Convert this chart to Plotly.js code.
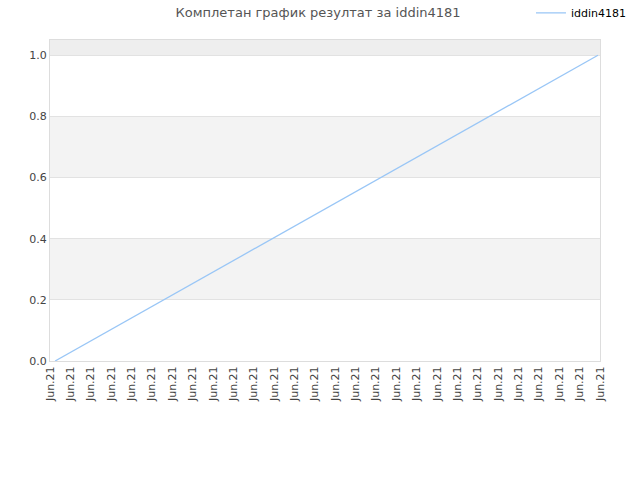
<!DOCTYPE html>
<html><head><meta charset="utf-8">
<script src="https://cdn.plot.ly/plotly-3.0.1.min.js"></script>
<style>body{margin:0;}#c{width:640px;height:480px;}</style>
</head><body><div id="c"></div>
<script>
const seriesName = "iddin4181";
const xIndex = [0.25, 26.9];
const yValues = [0, 1];
const tickPositions = [0,1,2,3,4,5,6,7,8,9,10,11,12,13,14,15,16,17,18,19,20,21,22,23,24,25,26,27];
const tickLabels = tickPositions.map(() => "Jun.21");
const bandRanges = [[0.2,0.4,"#f3f3f3"],[0.6,0.8,"#f3f3f3"],[1.0,1.05,"#eeeeee"]];

const shapes = bandRanges.map(b => ({type:"rect", xref:"paper", yref:"y", x0:0, x1:1, y0:b[0], y1:b[1], fillcolor:b[2], line:{width:0}, layer:"below"}));

Plotly.newPlot("c", [{
  x: xIndex, y: yValues, type: "scatter", mode: "lines", name: seriesName,
  line: {color: "#99c6f6", width: 1.3}
}], {
  width: 640, height: 480,
  margin: {l: 50, r: 40, t: 40, b: 119},
  paper_bgcolor: "#ffffff", plot_bgcolor: "#ffffff",
  title: {text: "Комплетан график резултат за iddin4181", x: 0.497, xanchor: "center", y: 0.975, yanchor: "middle",
          font: {family: "DejaVu Sans", size: 13, color: "#555555"}},
  showlegend: true,
  legend: {x: 0.8745, xanchor: "left", y: 0.973, yanchor: "middle", yref: "container", orientation: "h",
           font: {family: "DejaVu Sans", size: 11, color: "#000000"}, bgcolor: "rgba(0,0,0,0)"},
  xaxis: {range: [0, 27], tickmode: "array", tickvals: tickPositions, ticktext: tickLabels,
          tickangle: -90, showgrid: false, zeroline: false, showline: true, linecolor: "#dddddd", mirror: true,
          ticks: "", tickfont: {family: "DejaVu Sans", size: 11, color: "#444444"}},
  yaxis: {range: [0, 1.05], tickvals: [0,0.2,0.4,0.6,0.8,1.0], ticktext: ["0.0","0.2","0.4","0.6","0.8","1.0"],
          showgrid: true, gridcolor: "#e2e2e2", zeroline: false, showline: true, linecolor: "#dddddd", mirror: true,
          ticks: "", tickfont: {family: "DejaVu Sans", size: 11, color: "#444444"}},
  shapes: shapes
}, {displayModeBar: false, staticPlot: true});
</script></body></html>
